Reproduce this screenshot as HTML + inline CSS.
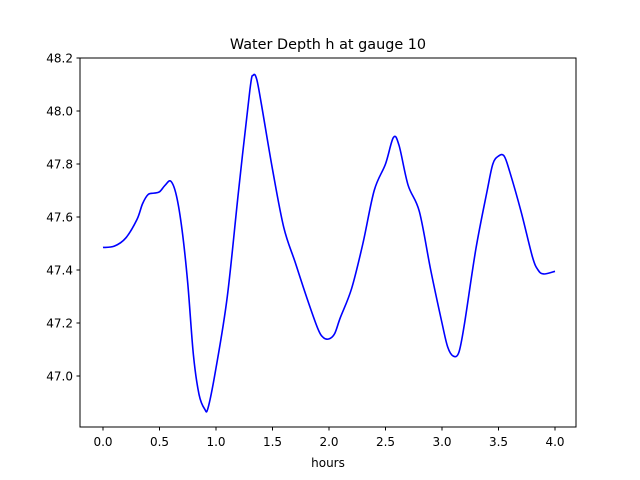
<!DOCTYPE html>
<html><head><meta charset="utf-8"><style>
body{margin:0;background:#fff;}
svg{display:block;font-family:"DejaVu Sans","Liberation Sans",sans-serif;}
</style></head><body>
<svg id="chart" width="640" height="480" viewBox="0 0 640 480">
<rect width="640" height="480" fill="#fff"/>
<text x="328" y="49" text-anchor="middle" font-size="14.4">Water Depth h at gauge 10</text>
<g id="xt"></g>
<g id="yt"></g>
<path id="line" fill="none" stroke="#0000ff" stroke-width="1.6" stroke-linejoin="round"/>
<rect x="80" y="58" width="496" height="369" fill="none" stroke="#000" stroke-width="1"/>
<text x="328" y="467" text-anchor="middle" font-size="12">hours</text>
</svg>
<script>
const times=[0,0.1,0.2,0.3,0.35,0.4,0.45,0.5,0.55,0.6,0.65,0.7,0.75,0.8,0.85,0.9,0.93,1.0,1.1,1.2,1.3,1.33,1.36,1.4,1.5,1.6,1.7,1.8,1.9,1.95,2.0,2.05,2.1,2.2,2.3,2.4,2.5,2.57,2.62,2.7,2.8,2.9,3.0,3.05,3.1,3.15,3.2,3.3,3.4,3.45,3.5,3.55,3.6,3.7,3.8,3.85,3.9,4.0];
const depths=[47.485,47.49,47.52,47.59,47.65,47.685,47.69,47.695,47.72,47.735,47.68,47.55,47.35,47.08,46.93,46.875,46.88,47.03,47.3,47.7,48.08,48.135,48.12,48.03,47.78,47.56,47.43,47.3,47.18,47.145,47.14,47.16,47.22,47.33,47.5,47.7,47.8,47.9,47.87,47.72,47.62,47.4,47.2,47.11,47.075,47.09,47.2,47.48,47.7,47.8,47.83,47.83,47.77,47.62,47.45,47.4,47.385,47.395];
const xTicks=[0,0.5,1,1.5,2,2.5,3,3.5,4];
const xLabels=["0.0","0.5","1.0","1.5","2.0","2.5","3.0","3.5","4.0"];
const yTicks=[47.0,47.2,47.4,47.6,47.8,48.0,48.2];
const yLabels=["47.0","47.2","47.4","47.6","47.8","48.0","48.2"];
const X=t=>103+t*113;
const Y=v=>376-(v-47.0)*265;
const ns="http://www.w3.org/2000/svg";
const xt=document.getElementById('xt'),yt=document.getElementById('yt');
xTicks.forEach((t,i)=>{
 const l=document.createElementNS(ns,'line');
 
 
 l.setAttribute('x1',X(t));l.setAttribute('x2',X(t));l.setAttribute('y1',427);l.setAttribute('y2',430.5);l.setAttribute('stroke','#000');
 xt.appendChild(l);
 const tx=document.createElementNS(ns,'text');
 
 
 tx.setAttribute('x',X(t));tx.setAttribute('y',446);tx.setAttribute('text-anchor','middle');tx.setAttribute('font-size','12');
 tx.textContent=xLabels[i];xt.appendChild(tx);
});
yTicks.forEach((v,i)=>{
 const l=document.createElementNS(ns,'line');
 
 
 l.setAttribute('x1',76.5);l.setAttribute('x2',80);l.setAttribute('y1',Y(v));l.setAttribute('y2',Y(v));l.setAttribute('stroke','#000');
 yt.appendChild(l);
 const tx=document.createElementNS(ns,'text');
 
 
 tx.setAttribute('x',73);tx.setAttribute('y',Y(v)+4.5);tx.setAttribute('text-anchor','end');tx.setAttribute('font-size','12');
 tx.textContent=yLabels[i];yt.appendChild(tx);
});
// Catmull-Rom smoothing
const p=times.map((t,i)=>[X(t),Y(depths[i])]);
let d='M'+p[0][0]+','+p[0][1];
for(let i=0;i<p.length-1;i++){
 const p0=p[i-1]||p[i],p1=p[i],p2=p[i+1],p3=p[i+2]||p2;
 const c1=[p1[0]+(p2[0]-p0[0])/6,p1[1]+(p2[1]-p0[1])/6];
 const c2=[p2[0]-(p3[0]-p1[0])/6,p2[1]-(p3[1]-p1[1])/6];
 d+=' C'+c1+' '+c2+' '+p2;
}
document.getElementById('line').setAttribute('d',d);
</script>
</body></html>
